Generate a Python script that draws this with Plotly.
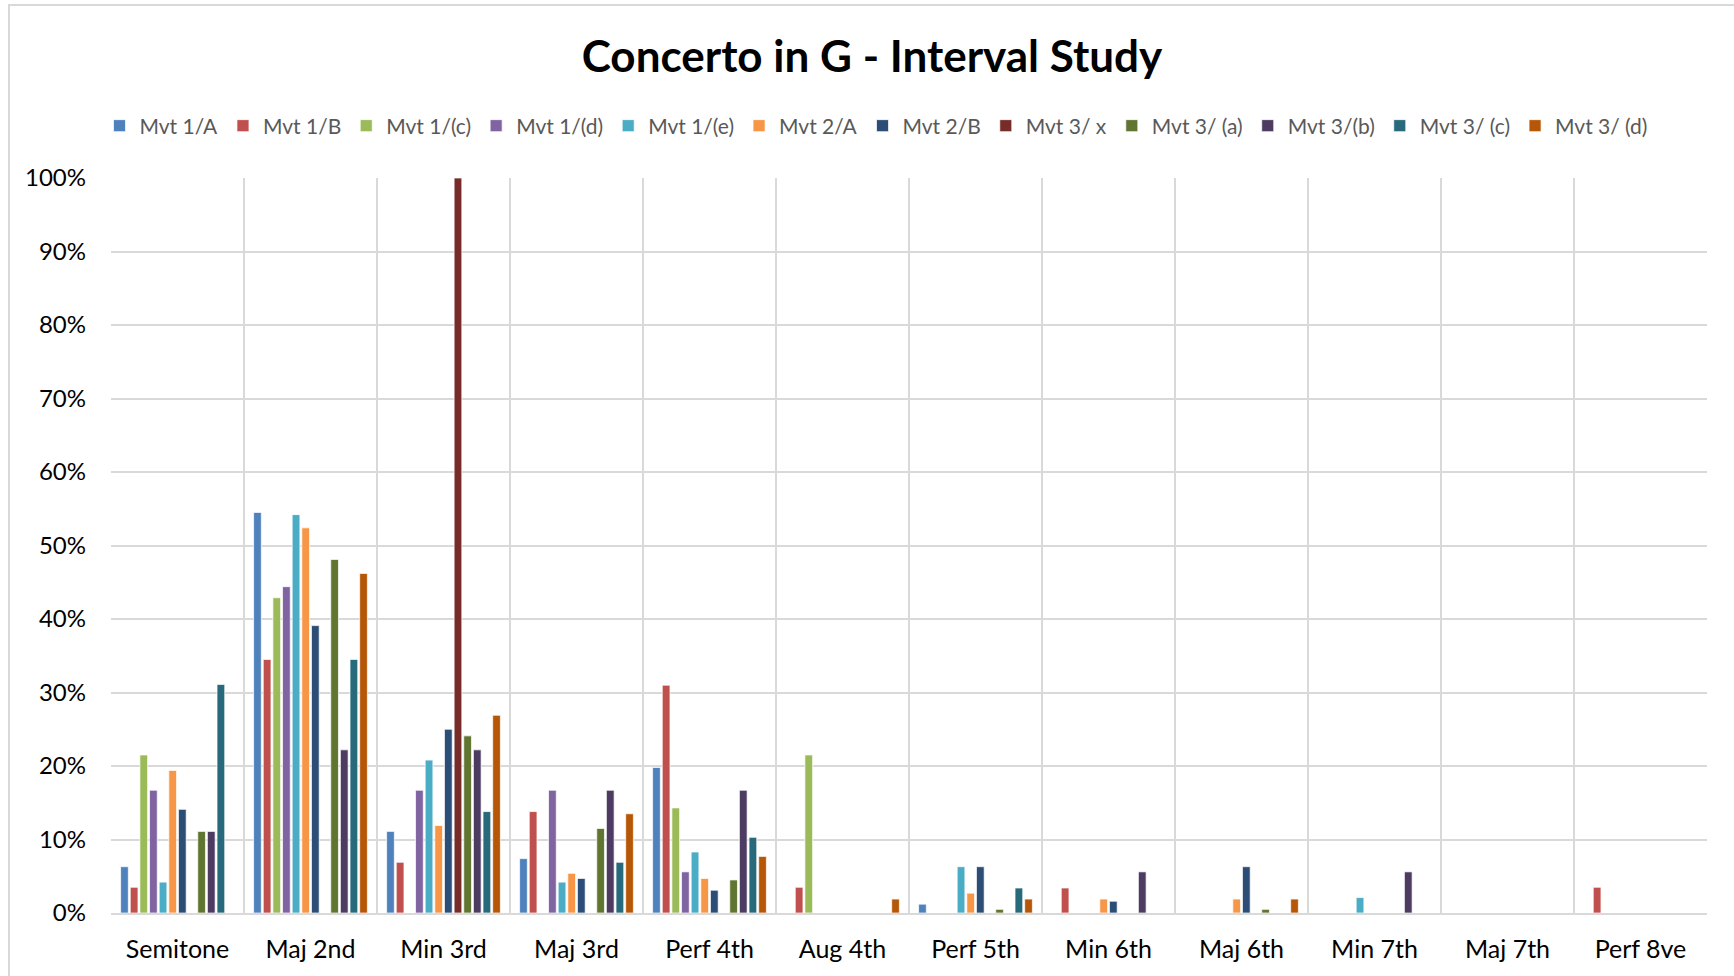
import plotly.graph_objects as go

categories = ["Semitone", "Maj 2nd", "Min 3rd", "Maj 3rd", "Perf 4th", "Aug 4th",
              "Perf 5th", "Min 6th", "Maj 6th", "Min 7th", "Maj 7th", "Perf 8ve"]

series_names = ["Mvt 1/A", "Mvt 1/B", "Mvt 1/(c)", "Mvt 1/(d)", "Mvt 1/(e)", "Mvt 2/A",
                "Mvt 2/B", "Mvt 3/ x", "Mvt 3/ (a)", "Mvt 3/(b)", "Mvt 3/ (c)", "Mvt 3/ (d)"]

mvt1_a = [6.3, 54.5, 11.1, 7.4, 19.8, 0, 1.2, 0, 0, 0, 0, 0]
mvt1_b = [3.5, 34.5, 6.9, 13.8, 31.0, 3.5, 0, 3.4, 0, 0, 0, 3.5]
mvt1_c = [21.5, 42.9, 0, 0, 14.3, 21.5, 0, 0, 0, 0, 0, 0]
mvt1_d = [16.7, 44.4, 16.7, 16.7, 5.6, 0, 0, 0, 0, 0, 0, 0]
mvt1_e = [4.2, 54.2, 20.8, 4.2, 8.3, 0, 6.3, 0, 0, 2.1, 0, 0]
mvt2_a = [19.4, 52.4, 11.9, 5.4, 4.7, 0, 2.7, 1.9, 1.9, 0, 0, 0]
mvt2_b = [14.1, 39.1, 25.0, 4.7, 3.1, 0, 6.3, 1.6, 6.3, 0, 0, 0]
mvt3_x = [0, 0, 100.0, 0, 0, 0, 0, 0, 0, 0, 0, 0]
mvt3_a = [11.1, 48.1, 24.1, 11.5, 4.5, 0, 0.5, 0, 0.5, 0, 0, 0]
mvt3_b = [11.1, 22.2, 22.2, 16.7, 16.7, 0, 0, 5.6, 0, 5.6, 0, 0]
mvt3_c = [31.1, 34.5, 13.8, 6.9, 10.3, 0, 3.4, 0, 0, 0, 0, 0]
mvt3_d = [0, 46.2, 26.9, 13.5, 7.7, 1.9, 1.9, 0, 1.9, 0, 0, 0]

series_values = [mvt1_a, mvt1_b, mvt1_c, mvt1_d, mvt1_e, mvt2_a,
                 mvt2_b, mvt3_x, mvt3_a, mvt3_b, mvt3_c, mvt3_d]

colors = ["#4F81BD", "#C0504D", "#9BBB59", "#8064A2", "#4BACC6", "#F79646",
          "#2C4D75", "#772C2A", "#5F7530", "#4D3B62", "#276A7C", "#B65708"]

y_ticks = list(range(0, 101, 10))

fig = go.Figure()
for name, vals, col in zip(series_names, series_values, colors):
    fig.add_trace(go.Bar(
        x=categories, y=vals, name=name,
        marker=dict(color=col, line=dict(color="rgba(255,255,255,0.7)", width=1)),
    ))

FONT = "Lato"
W, H = 1734, 976
L, R, T, B = 111, 27, 178, 63
pw, ph = W - L - R, H - T - B

def px_x(p):
    return (p - L) / pw

def px_y(p):
    return 1 + (T - p) / ph

fig.update_layout(
    width=W, height=H,
    margin=dict(l=L, r=R, t=T, b=B, autoexpand=False),
    paper_bgcolor="white", plot_bgcolor="white",
    barmode="group", bargap=0.13, bargroupgap=0.2,
    font=dict(family=FONT, color="#000000"),
    title=dict(text="<b>Concerto in G - Interval Study</b>",
               x=872 / W, xanchor="center", xref="container",
               y=1 - 57 / H, yanchor="middle", yref="container",
               font=dict(family=FONT, size=44, color="#000000")),
    legend=dict(orientation="h", x=px_x(876), xanchor="center",
                y=px_y(126), yanchor="middle",
                font=dict(family=FONT, size=21, color="#595959"),
                itemwidth=30, tracegroupgap=0, bgcolor="rgba(0,0,0,0)"),
    xaxis=dict(type="category", tickson="boundaries", showgrid=True,
               gridcolor="#d9d9d9", gridwidth=2, ticks="",
               showline=True, linecolor="#d9d9d9", linewidth=2, mirror=False,
               tickfont=dict(family=FONT, size=25, color="#000000"),
               ticklabelstandoff=13),
    yaxis=dict(range=[0, 100], tickvals=y_ticks, ticktext=[f"{v}%" for v in y_ticks],
               showgrid=True, gridcolor="#d9d9d9", gridwidth=2,
               zeroline=False, showline=False, ticks="",
               tickfont=dict(family=FONT, size=24, color="#000000"),
               ticklabelstandoff=24),
    shapes=[dict(type="rect", xref="paper", yref="paper",
                 x0=px_x(9), x1=px_x(1745), y0=px_y(990), y1=px_y(5),
                 line=dict(color="#d9d9d9", width=2), layer="below")],
)

fig.write_html("out.html")
